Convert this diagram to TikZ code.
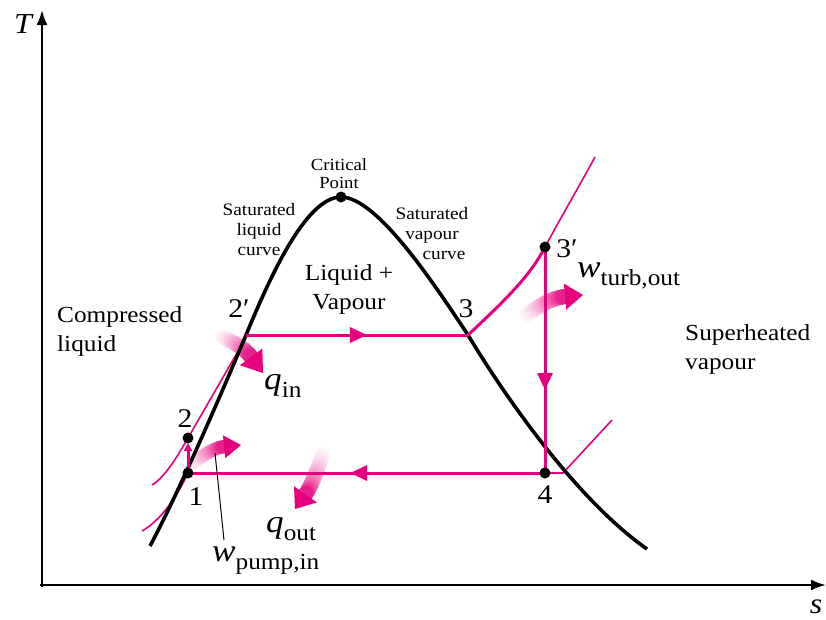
\documentclass[tikz,border=0pt]{standalone}
\usepackage{fontspec}
\setmainfont{Liberation Serif}[FakeStretch=1.1]
\usetikzlibrary{arrows.meta,decorations.markings}
\definecolor{cyc}{RGB}{230,0,126}

% gradient (white -> magenta) curved arrow along a quadratic curve
% #1,#2 tail ; #3,#4 control ; #5,#6 tip ; #7 body width ; #8 head width ; #9 head length
\newcommand{\fadearrow}[9]{%
  \pgfmathsetmacro{\fdx}{#5-#3}\pgfmathsetmacro{\fdy}{#6-#4}%
  \pgfmathsetmacro{\fdl}{sqrt(\fdx*\fdx+\fdy*\fdy)}%
  \pgfmathsetmacro{\fux}{\fdx/\fdl}\pgfmathsetmacro{\fuy}{\fdy/\fdl}%
  \pgfmathsetmacro{\fbx}{#5-#9*\fux}\pgfmathsetmacro{\fby}{#6-#9*\fuy}%
  \foreach \i in {0,...,23}{%
    \pgfmathsetmacro{\ta}{\i/24}%
    \pgfmathsetmacro{\tb}{(\i+1)/24}%
    \pgfmathsetmacro{\xa}{(1-\ta)^2*#1+2*\ta*(1-\ta)*#3+\ta^2*\fbx}%
    \pgfmathsetmacro{\ya}{(1-\ta)^2*#2+2*\ta*(1-\ta)*#4+\ta^2*\fby}%
    \pgfmathsetmacro{\xb}{(1-\tb)^2*#1+2*\tb*(1-\tb)*#3+\tb^2*\fbx}%
    \pgfmathsetmacro{\yb}{(1-\tb)^2*#2+2*\tb*(1-\tb)*#4+\tb^2*\fby}%
    \pgfmathsetmacro{\cc}{3+85*(\i/23)^1.2}%
    \draw[line width=#7pt, line cap=round, draw=cyc!\cc] (\xa,\ya) -- (\xb,\yb);
  }%
  \fill[cyc] (#5,#6) -- (\fbx+#8/2*\fuy,\fby-#8/2*\fux) -- (\fbx-#8/2*\fuy,\fby+#8/2*\fux) -- cycle;
}

\newcommand{\mlab}[2]{{\fontsize{32}{32}\selectfont\itshape #1}\raisebox{-8pt}{\fontsize{23}{23}\selectfont #2}}

\begin{document}
\begin{tikzpicture}[x=1pt,y=-1pt,
  dome/.style={line width=3.6pt, black},
  cycline/.style={line width=3pt, cyc},
  isobar/.style={line width=1.6pt, cyc},
  axis/.style={line width=2.2pt, black, -{Latex[length=15pt,width=11pt]}},
  dot/.style={circle, fill=black, inner sep=0pt, minimum size=11pt},
  lbl/.style={inner sep=0pt, font=\fontsize{23}{29}\selectfont, align=left},
  small/.style={inner sep=0pt, font=\fontsize{17.5}{20}\selectfont, align=center},
  crit/.style={inner sep=0pt, font=\fontsize{17}{18}\selectfont, align=center},
  num/.style={inner sep=0pt, font=\fontsize{27}{27}\selectfont},
  mathlbl/.style={inner sep=0pt},
  axlbl/.style={inner sep=0pt, font=\fontsize{29}{29}\selectfont\itshape},
  midarrow/.style={postaction={decorate}, decoration={markings,
      mark=at position #1 with {\arrow{Triangle[length=17pt,width=15pt]}}}}
]
\useasboundingbox (0,0) rectangle (826,619);

% axes
\coordinate (ytip) at (42,10);
\coordinate (xtip) at (826,585);
\coordinate (ybase) at (42,587);
\coordinate (xbase) at (40,585);
\draw[axis] (ybase) -- (ytip);
\draw[axis] (xbase) -- (xtip);
\node[axlbl, anchor=base] (Tlbl) at (23,33) {T};
\node[axlbl, anchor=base] (slbl) at (816,613) {s};

% state points
\coordinate (p1) at (188,473);
\coordinate (p2) at (188,438);
\coordinate (p2p) at (246,335);
\coordinate (p3) at (468,335);
\coordinate (p3p) at (545,247);
\coordinate (p4) at (545,473);
\coordinate (cp) at (341,197);
\coordinate (domestart) at (150,546);
\coordinate (domeend) at (647,549);

% gradient arrows (heat and work)
\fadearrow{222}{337}{243}{346}{263}{373}{15}{28}{20}
\fadearrow{191}{465}{211}{448}{241}{445}{13}{23}{17}
\fadearrow{323}{454}{312}{485}{295}{509}{15}{28}{18}
\fadearrow{527}{315}{549}{298}{583}{295}{15}{26}{18}

% thin isobars
\coordinate (lowstart) at (142,531);
\coordinate (highstart) at (152,485);
\coordinate (highend) at (237,353);
\coordinate (supend) at (595,157);
\coordinate (lowbend) at (563,473);
\coordinate (lowend) at (612,420);
\draw[isobar] (lowstart) .. controls (160,521) and (177,497) .. (p1);
\draw[isobar] (highstart) .. controls (166,477) and (181,450) .. (p2) -- (highend);
\draw[isobar] (p3p) .. controls (565,210) and (581,183) .. (supend);
\draw[isobar] (p4) -- (lowbend) -- (lowend);

% saturation dome
\draw[dome] (domestart) .. controls (180,490) and (225,385) .. (p2p)
  .. controls (268,282) and (305,197) .. (cp)
  .. controls (378,197) and (438,290) .. (p3)
  .. controls (495,380) and (570,495) .. (domeend);

% cycle
\draw[cycline, midarrow=0.545] (p2p) -- (p3);
\draw[cycline] (p3) .. controls (500,305) and (530,277) .. (p3p);
\draw[cycline, midarrow=0.633] (p3p) -- (p4);
\draw[cycline, midarrow=0.546] (p4) -- (p1);
\draw[cycline, -{Triangle[length=8pt,width=8pt]}, shorten >=5pt] (p1) -- (p2);

% leader for pump work
\coordinate (lead1) at (215,453);
\coordinate (lead2) at (224,540);
\draw[line width=1pt] (lead1) -- (lead2);

% dots
\node[dot] (d1) at (p1) {};
\node[dot] (d2) at (p2) {};
\node[dot] (d3p) at (p3p) {};
\node[dot] (d4) at (p4) {};
\node[dot] (dcp) at (cp) {};

% point labels
\node[num, anchor=base] (l1) at (196,505) {1};
\node[num, anchor=base] (l2) at (185,427) {2};
\node[num, anchor=base] (l2p) at (239,317) {2′};
\node[num, anchor=base] (l3) at (466,317) {3};
\node[num, anchor=base] (l3p) at (567,257) {3′};
\node[num, anchor=base] (l4) at (545,503) {4};

% region labels
\node[lbl, anchor=north west] (compressed) at (57,306) {Compressed\\liquid};
\node[lbl, anchor=north west] (superheated) at (685,324) {Superheated\\vapour};
\node[lbl, anchor=north, align=center] (twophase) at (349,264) {Liquid +\\Vapour};
\node[small, anchor=north] (satliq) at (259,203) {Saturated\\liquid\\curve};
\node[small, anchor=north] (satvap) at (432,207) {Saturated\\vapour\\\hspace*{24pt}curve};
\node[crit, anchor=north] (critlbl) at (339,158) {Critical\\Point};

% energy labels
\node[mathlbl, anchor=base west] (qin) at (264,389) {\mlab{q}{in}};
\node[mathlbl, anchor=base west] (qout) at (266,532) {\mlab{q}{out}};
\node[mathlbl, anchor=base west] (wturb) at (577,277) {\mlab{w}{turb,out}};
\node[mathlbl, anchor=base west] (wpump) at (212,561) {\mlab{w}{pump,in}};
\end{tikzpicture}
\end{document}
